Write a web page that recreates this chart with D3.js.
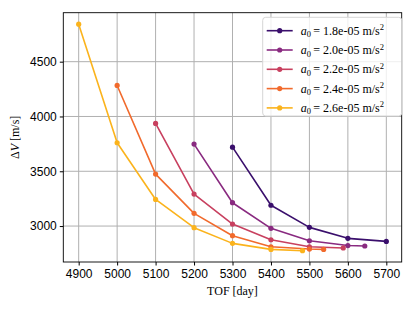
<!DOCTYPE html>
<html>
<head>
<meta charset="utf-8">
<script src="https://cdn.jsdelivr.net/npm/d3@7"></script>
<style>
  body { margin: 0; background: #fff; }
  svg { font-family: "Liberation Serif", "DejaVu Serif", serif; }
  .tick text { font-size: 12px; fill: #000; }
</style>
</head>
<body>
<div class="chart"></div>
<script>
// Chart size
var svgWidth = 415;
var svgHeight = 311;

var margin = { top: 12.7, right: 13.3, bottom: 49, left: 63.3 };
var width = svgWidth - margin.left - margin.right;
var height = svgHeight - margin.top - margin.bottom;

// Data
var accelLabels = ["1.8e-05", "2.0e-05", "2.2e-05", "2.4e-05", "2.6e-05"];
var colors = ["#3a0f6c", "#892a80", "#c8405f", "#f16a2c", "#fbb31c"];

var tof18 = [5300, 5400, 5500, 5600, 5700];
var dv18 = [3720, 3190, 2988, 2888, 2860];

var tof20 = [5200, 5300, 5400, 5500, 5600, 5644];
var dv20 = [3748, 3213, 2979, 2866, 2822, 2818];

var tof22 = [5100, 5200, 5300, 5400, 5500, 5588];
var dv22 = [3937, 3292, 3018, 2875, 2811, 2800];

var tof24 = [5000, 5100, 5200, 5300, 5400, 5500, 5537];
var dv24 = [4283, 3474, 3116, 2912, 2811, 2790, 2787];

var tof26 = [4900, 5000, 5100, 5200, 5300, 5400, 5482];
var dv26 = [4842, 3760, 3243, 2985, 2842, 2787, 2775];

var xTicks = [4900, 5000, 5100, 5200, 5300, 5400, 5500, 5600, 5700];
var yTicks = [3000, 3500, 4000, 4500];

var series = [
    { tof: tof18, dv: dv18 },
    { tof: tof20, dv: dv20 },
    { tof: tof22, dv: dv22 },
    { tof: tof24, dv: dv24 },
    { tof: tof26, dv: dv26 }
].map(function(s, i) {
    return {
        label: accelLabels[i],
        color: colors[i],
        points: s.tof.map(function(t, j) { return { tof: t, dv: s.dv[j] }; })
    };
});

var svg = d3.select(".chart")
    .append("svg")
    .attr("width", svgWidth)
    .attr("height", svgHeight);

var chartGroup = svg.append("g")
    .attr("transform", `translate(${margin.left}, ${margin.top})`);

// Scales (matplotlib style 5% padding)
var xLinearScale = d3.scaleLinear().domain([4860, 5740]).range([0, width]);
var yLinearScale = d3.scaleLinear().domain([2672, 4947]).range([height, 0]);

// Grid
chartGroup.append("g")
    .selectAll("line")
    .data(xTicks)
    .enter()
    .append("line")
    .attr("x1", d => xLinearScale(d))
    .attr("x2", d => xLinearScale(d))
    .attr("y1", 0)
    .attr("y2", height)
    .attr("stroke", "#b0b0b0")
    .attr("stroke-width", 1);

chartGroup.append("g")
    .selectAll("line")
    .data(yTicks)
    .enter()
    .append("line")
    .attr("x1", 0)
    .attr("x2", width)
    .attr("y1", d => yLinearScale(d))
    .attr("y2", d => yLinearScale(d))
    .attr("stroke", "#b0b0b0")
    .attr("stroke-width", 1);

// Axes
var bottomAxis = d3.axisBottom(xLinearScale).tickValues(xTicks).tickSize(3.5).tickPadding(4).tickFormat(d3.format("d"));
var leftAxis = d3.axisLeft(yLinearScale).tickValues(yTicks).tickSize(3.5).tickPadding(3).tickFormat(d3.format("d"));

chartGroup.append("g")
    .attr("transform", `translate(0, ${height})`)
    .call(bottomAxis)
    .call(g => g.select(".domain").remove());

chartGroup.append("g")
    .call(leftAxis)
    .call(g => g.select(".domain").remove());

// Lines and markers
var line = d3.line()
    .x(d => xLinearScale(d.tof))
    .y(d => yLinearScale(d.dv));

series.forEach(function(s) {
    chartGroup.append("path")
        .datum(s.points)
        .attr("d", line)
        .attr("fill", "none")
        .attr("stroke", s.color)
        .attr("stroke-width", 1.6)
        .attr("stroke-linejoin", "round");

    chartGroup.selectAll(null)
        .data(s.points)
        .enter()
        .append("circle")
        .attr("cx", d => xLinearScale(d.tof))
        .attr("cy", d => yLinearScale(d.dv))
        .attr("r", 2.6)
        .attr("fill", s.color);
});

// Frame
chartGroup.append("rect")
    .attr("width", width)
    .attr("height", height)
    .attr("fill", "none")
    .attr("stroke", "#000")
    .attr("stroke-width", 0.9);

// Legend
var legend = chartGroup.append("g")
    .attr("transform", "translate(199.4, 4.6)");

legend.append("rect")
    .attr("width", 139)
    .attr("height", 98.7)
    .attr("rx", 3)
    .attr("fill", "#fff")
    .attr("fill-opacity", 0.8)
    .attr("stroke", "#d6d6d6")
    .attr("stroke-width", 1);

series.forEach(function(s, i) {
    var row = legend.append("g")
        .attr("transform", `translate(0, ${13.4 + i * 19.3})`);
    row.append("line")
        .attr("x1", 4)
        .attr("x2", 30)
        .attr("stroke", s.color)
        .attr("stroke-width", 1.6);
    row.append("circle")
        .attr("cx", 17)
        .attr("r", 2.6)
        .attr("fill", s.color);
    var t = row.append("text")
        .attr("x", 38)
        .attr("y", 4)
        .attr("font-size", "12px")
        .attr("fill", "#000");
    t.append("tspan").attr("font-style", "italic").text("a");
    t.append("tspan").attr("font-size", "8.5px").attr("dy", 2.5).text("0");
    t.append("tspan").attr("dy", -2.5).text("\u2009=  " + s.label + " m/s");
    t.append("tspan").attr("font-size", "8.5px").attr("dy", -4.5).text("2");
});

// Axis labels
chartGroup.append("text")
    .attr("x", width / 2)
    .attr("y", height + 33)
    .attr("text-anchor", "middle")
    .attr("font-size", "12px")
    .text("TOF [day]");

var yLabel = chartGroup.append("text")
    .attr("transform", `translate(${-44}, ${height / 2}) rotate(-90)`)
    .attr("text-anchor", "middle")
    .attr("font-size", "12px");
yLabel.append("tspan").text("\u0394");
yLabel.append("tspan").attr("font-style", "italic").text("V");
yLabel.append("tspan").text(" [m/s]");
</script>
</body>
</html>
